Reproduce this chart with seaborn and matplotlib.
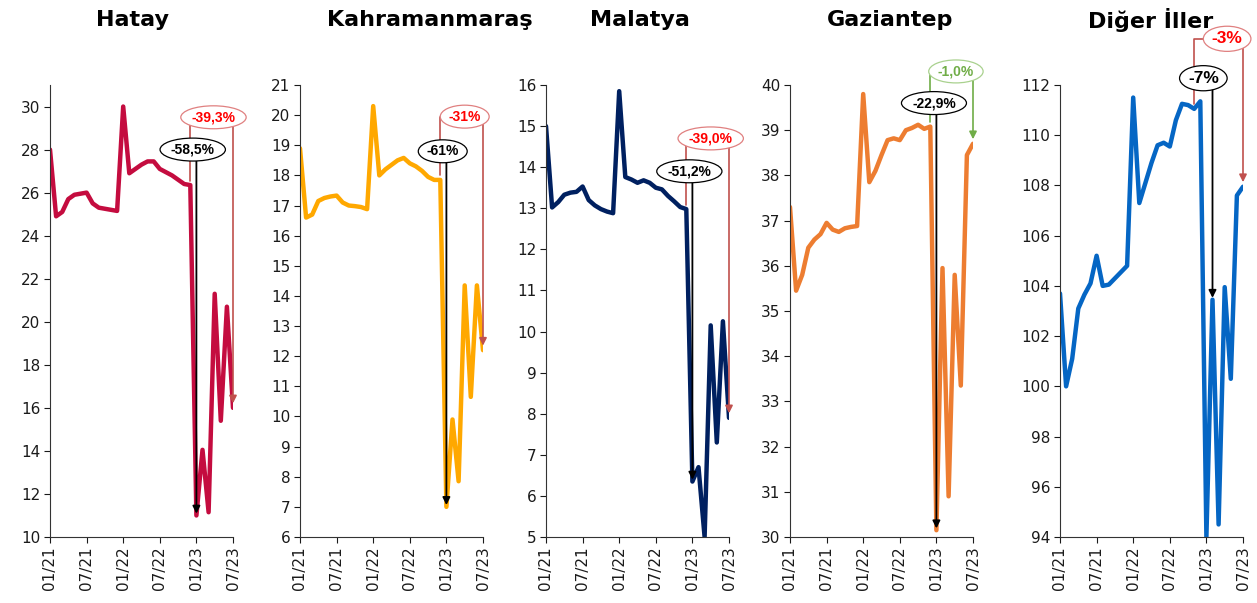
import numpy as np
import pandas as pd
import seaborn as sns
import matplotlib.pyplot as plt

# monthly index, 01/21 .. 07/23
months = pd.date_range('2021-01-01', '2023-07-01', freq='MS')
month_labels = [d.strftime('%m/%y') for d in months]
tick_pos = list(range(0, len(months), 6))

hatay = [28.0, 24.9, 25.1, 25.7, 25.9, 25.95, 26.0, 25.5, 25.3, 25.25, 25.2, 25.15,
         30.0, 26.9, 27.1, 27.3, 27.45, 27.45, 27.1, 26.95, 26.8, 26.6, 26.4, 26.35,
         11.0, 14.05, 11.15, 21.3, 15.4, 20.7, 16.0]
kahramanmaras = [18.9, 16.6, 16.7, 17.15, 17.25, 17.3, 17.33, 17.1, 17.0, 16.98, 16.95, 16.88,
                 20.3, 18.0, 18.2, 18.35, 18.5, 18.58, 18.4, 18.3, 18.15, 17.95, 17.85, 17.85,
                 7.0, 9.9, 7.85, 14.35, 10.65, 14.35, 12.2]
malatya = [15.0, 13.02, 13.15, 13.33, 13.38, 13.4, 13.53, 13.2, 13.07, 12.98, 12.92, 12.88,
           15.85, 13.76, 13.7, 13.62, 13.68, 13.62, 13.5, 13.46, 13.3, 13.17, 13.03, 12.98,
           6.35, 6.7, 5.0, 10.15, 7.3, 10.25, 7.9]
gaziantep = [37.3, 35.45, 35.8, 36.4, 36.58, 36.7, 36.95, 36.8, 36.75, 36.83, 36.86, 36.88,
             39.8, 37.85, 38.1, 38.45, 38.78, 38.82, 38.78, 39.0, 39.05, 39.12, 39.03, 39.08,
             30.15, 35.95, 30.9, 35.8, 33.35, 38.45, 38.7]
diger = [103.7, 100.0, 101.1, 103.1, 103.65, 104.1, 105.2, 104.0, 104.05, 104.3, 104.55, 104.8,
         111.5, 107.3, 108.1, 108.9, 109.6, 109.7, 109.55, 110.6, 111.25, 111.2, 111.05, 111.35,
         94.0, 103.45, 94.5, 103.95, 100.3, 107.6, 107.95]

titles = ['Hatay', 'Kahramanmaraş', 'Malatya', 'Gaziantep', 'Diğer İller']
series = [hatay, kahramanmaras, malatya, gaziantep, diger]
colors = ['#C40C3F', '#FFA800', '#002060', '#ED7D31', '#0566C4']
ylims = [(10, 31), (6, 21), (5, 16), (30, 40), (94, 112)]
ysteps = [2, 1, 1, 1, 2]

# change annotations: black = drop, coloured = bracket to latest
drop_labels = ['-58,5%', '-61%', '-51,2%', '-22,9%', '-7%']
drop_label_x = [23.4, 23.4, 23.5, 23.6, 23.5]
drop_label_y = [28.0, 18.8, 13.9, 39.6, 112.27]
drop_idx = [24, 24, 24, 24, 25]
last_labels = ['-39,3%', '-31%', '-39,0%', '-1,0%', '-3%']
last_label_x = [26.8, 27.0, 27.0, 27.2, 27.4]
last_label_y = [29.5, 19.95, 14.7, 40.3, 113.84]
bracket_start = [23, 23, 23, 23, 22]
last_kind = ['red', 'red', 'red', 'green', 'red']

title_x = [132, 430, 640, 890, 1151]
ax_left = [50, 300, 546, 790, 1060]

W, H = 1257, 603
sns.set_style('ticks')
plt.rcParams['font.family'] = ['DejaVu Sans']
fig = plt.figure(figsize=(W / 100, H / 100), dpi=100)

for i in range(5):
    ax = fig.add_axes([ax_left[i] / W, 1 - 537 / H, 183 / W, 452 / H])
    df = pd.DataFrame({'t': np.arange(len(series[i])), 'v': series[i]})
    sns.lineplot(data=df, x='t', y='v', ax=ax, color=colors[i], lw=3.2)
    ax.set_xlim(0, len(months) - 1)
    ax.set_ylim(*ylims[i])
    ax.set_yticks(np.arange(ylims[i][0], ylims[i][1] + 0.01, ysteps[i]))
    ax.set_xticks(tick_pos)
    ax.set_xticklabels([month_labels[k] for k in tick_pos], rotation=90)
    ax.set_xlabel('')
    ax.set_ylabel('')
    ax.tick_params(labelsize=11, length=4, width=0.8, colors='#1a1a1a', pad=3)
    for s in ['top', 'right']:
        ax.spines[s].set_visible(False)
    for s in ['left', 'bottom']:
        ax.spines[s].set_color('#333333')
        ax.spines[s].set_linewidth(0.8)

    fig.text(title_x[i] / W, 1 - 20 / H, titles[i], ha='center', va='center',
             fontsize=16, fontweight='bold', color='black')

    v = series[i]
    span = ylims[i][1] - ylims[i][0]
    fs = 12.5 if i == 4 else 10

    # black drop arrow
    xd = drop_idx[i]
    ax.annotate('', xy=(xd, v[xd] + span * 0.004), xytext=(xd, drop_label_y[i]),
                arrowprops=dict(arrowstyle='-|>', color='black', lw=1.3, mutation_scale=11,
                                shrinkA=0, shrinkB=0),
                annotation_clip=False, zorder=4)
    ax.text(drop_label_x[i], drop_label_y[i], drop_labels[i], ha='center', va='center',
            fontsize=fs, fontweight='bold', color='black', zorder=6, clip_on=False,
            family=['Liberation Sans', 'DejaVu Sans'],
            bbox=dict(boxstyle='ellipse,pad=0.08', fc='white', ec='black', lw=0.9))

    # coloured bracket to the latest month
    if last_kind[i] == 'green':
        lc, tc, ec = '#70AD47', '#70AD47', '#A9D18E'
    else:
        lc, tc, ec = '#C0504D', '#FF0000', '#E08080'
    x0, x1 = bracket_start[i], len(v) - 1
    top = last_label_y[i]
    ax.plot([x0, x0, x1], [v[x0] + span * 0.01, top, top], color=lc, lw=1.2,
            clip_on=False, zorder=3)
    ax.annotate('', xy=(x1, v[x1] + span * 0.01), xytext=(x1, top),
                arrowprops=dict(arrowstyle='-|>', color=lc, lw=1.2, mutation_scale=11,
                                shrinkA=0, shrinkB=0),
                annotation_clip=False, zorder=3)
    ax.text(last_label_x[i], top, last_labels[i], ha='center', va='center',
            fontsize=fs, fontweight='bold', color=tc, zorder=6, clip_on=False,
            family=['Liberation Sans', 'DejaVu Sans'],
            bbox=dict(boxstyle='ellipse,pad=0.08', fc='white', ec=ec, lw=0.9))

fig.savefig('out.png', dpi=100)
